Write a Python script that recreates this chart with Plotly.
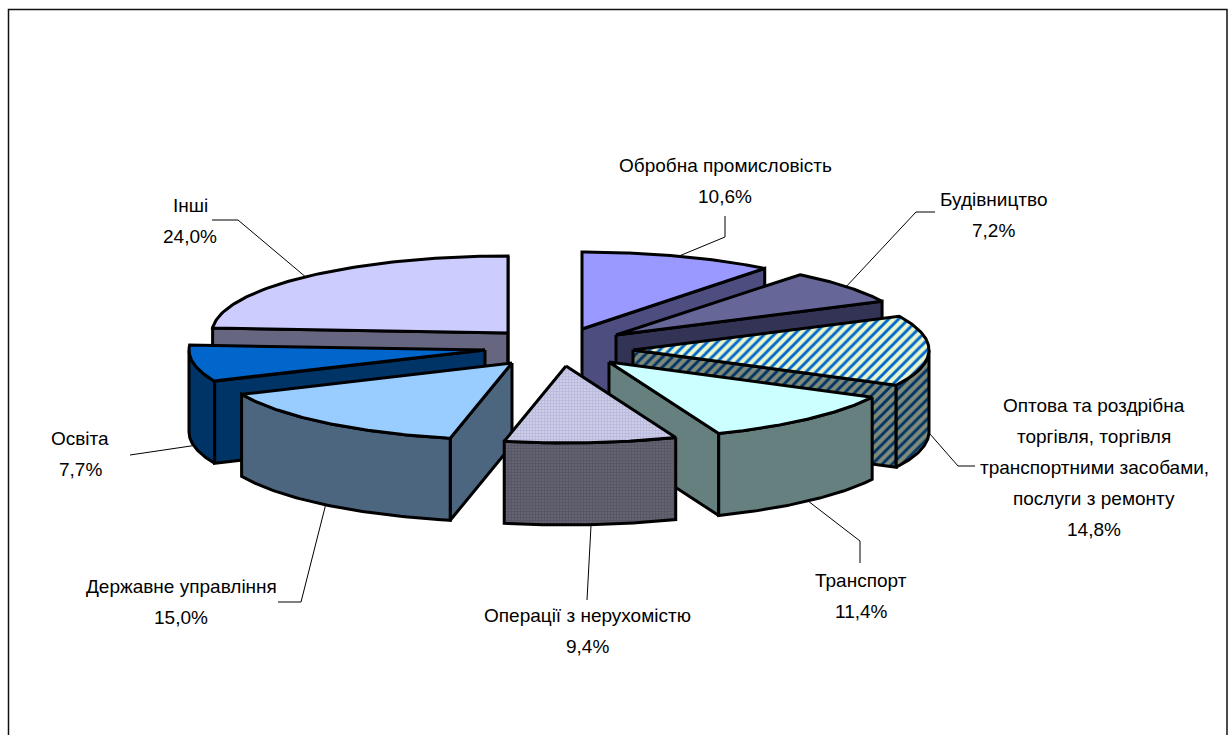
import numpy as np
import plotly.graph_objects as go

# --- data ---
categories = ["Обробна промисловість", "Будівництво",
              "Оптова та роздрібна торгівля, торгівля транспортними засобами, послуги з ремонту",
              "Транспорт", "Операції з нерухомістю", "Державне управління", "Освіта", "Інші"]
values = [10.6, 7.2, 14.8, 11.4, 9.4, 15.0, 7.7, 24.0]
value_labels = ["10,6%", "7,2%", "14,8%", "11,4%", "9,4%", "15,0%", "7,7%", "24,0%"]

# --- layout of the exploded 3-D pie ---
RX, RY, DEPTH = 296, 77, 82
apex_x = [582, 616, 633, 609, 566, 512, 485, 508]
apex_y = [329, 335, 350, 362, 366, 363, 350, 333]
draw_order = [7, 0, 1, 2, 6, 5, 3, 4]

top_colors = ["#9999FF", "#666699", "#E4F3C4", "#CCFFFF", "#B0B0D8", "#99CCFF", "#0066CC", "#CCCCFF"]
wall_colors = ["#4D4D80", "#333355", "#7A8672", "#668080", "#555566", "#4D6680", "#003366", "#666680"]
patterns = {
    2: (dict(shape="/", size=7, solidity=0.42, fgcolor="#0066CC", bgcolor="#EAF7CC", fgopacity=1),
        dict(shape="/", size=7, solidity=0.42, fgcolor="#003366", bgcolor="#808A78", fgopacity=1)),
    4: (dict(shape="+", size=3, solidity=0.75, fgcolor="#9C9CCA", bgcolor="#DADAF0"),
        dict(shape="+", size=3, solidity=0.75, fgcolor="#42424F", bgcolor="#6C6C7A")),
}

# label lines: (centre x, first-line y), line height is common
label_pos = [(725, 165), (993, 199), (1094, 405), (861, 580), (587, 615), (181, 586), (80, 438), (190, 205)]
label_lines = [
    ["Обробна промисловість"],
    ["Будівництво"],
    ["Оптова та роздрібна", "торгівля, торгівля", "транспортними засобами,", "послуги з ремонту"],
    ["Транспорт"],
    ["Операції з нерухомістю"],
    ["Державне управління"],
    ["Освіта"],
    ["Інші"],
]
LINE_H = 31
# leader elbows, running from the slice towards the label
leader_elbow = [
    [(725, 237), (725, 216)],
    [(916, 212), (935, 212)],
    [(958, 466), (975, 466)],
    [(860, 541), (860, 563)],
    [(587, 600)],
    [(301, 602), (278, 602)],
    [(130, 455)],
    [(238, 220), (212, 220)],
]

fractions = np.array(values) / np.sum(values)
edges = np.concatenate([[0], np.cumsum(fractions)]) * 2 * np.pi


def rim(i, a):
    return apex_x[i] + RX * np.sin(a), apex_y[i] - RY * np.cos(a)


fig = go.Figure()
LINE = dict(color="#000000", width=3)


def face(xs, ys, color, name, pattern=None):
    kw = dict(fillpattern=pattern) if pattern else {}
    fig.add_trace(go.Scatter(x=list(xs), y=list(ys), mode="lines", fill="toself",
                             fillcolor=color, line=LINE, name=name,
                             hoverinfo="name", showlegend=False, **kw))


for i in draw_order:
    a0, a1 = edges[i], edges[i + 1]
    ax, ay = apex_x[i], apex_y[i]
    top_p, wall_p = patterns.get(i, (None, None))
    name = categories[i]
    # cut faces that look towards the viewer
    for a, visible in ((a0, np.sin(a0) < 0), (a1, np.sin(a1) > 0)):
        if visible:
            px, py = rim(i, a)
            face([ax, px, px, ax, ax], [ay, py, py + DEPTH, ay + DEPTH, ay], wall_colors[i], name, wall_p)
    # outer wall, front half only
    lo, hi = max(a0, np.pi / 2), min(a1, 3 * np.pi / 2)
    if hi > lo:
        t = np.linspace(lo, hi, 60)
        px, py = rim(i, t)
        face(np.r_[px, px[::-1], px[0]], np.r_[py, py[::-1] + DEPTH, py[0]], wall_colors[i], name, wall_p)
    # top
    t = np.linspace(a0, a1, 80)
    px, py = rim(i, t)
    face(np.r_[ax, px, ax], np.r_[ay, py, ay], top_colors[i], name, top_p)

# leader lines start at the middle of each slice's outer edge
for i in range(len(values)):
    mid = (edges[i] + edges[i + 1]) / 2
    sx, sy = rim(i, mid)
    if np.cos(mid) < 0.05:
        sy += DEPTH
    pts = [(sx, sy)] + leader_elbow[i]
    fig.add_trace(go.Scatter(x=[p[0] for p in pts], y=[p[1] for p in pts], mode="lines",
                             line=dict(color="#000000", width=1), hoverinfo="skip", showlegend=False))

annotations = []
for i in range(len(values)):
    cx, y0 = label_pos[i]
    for k, txt in enumerate(label_lines[i] + [value_labels[i]]):
        annotations.append(dict(x=cx, y=y0 + k * LINE_H, text=txt, showarrow=False,
                                xanchor="center", yanchor="middle", xref="x", yref="y",
                                font=dict(family="Liberation Sans", size=19, color="#000000")))

fig.update_layout(
    width=1229, height=735, margin=dict(l=0, r=0, t=0, b=0),
    paper_bgcolor="white", plot_bgcolor="white", showlegend=False,
    xaxis=dict(range=[0, 1229], visible=False, fixedrange=True),
    yaxis=dict(range=[735, 0], visible=False, fixedrange=True),
    annotations=annotations,
    shapes=[dict(type="rect", x0=8.5, y0=9.5, x1=1227, y1=760, line=dict(color="#111111", width=1.5),
                 layer="below")],
)

fig.write_html("out.html", config=dict(displayModeBar=False),
               post_script="document.body.style.margin='0';document.body.style.overflow='hidden';")
